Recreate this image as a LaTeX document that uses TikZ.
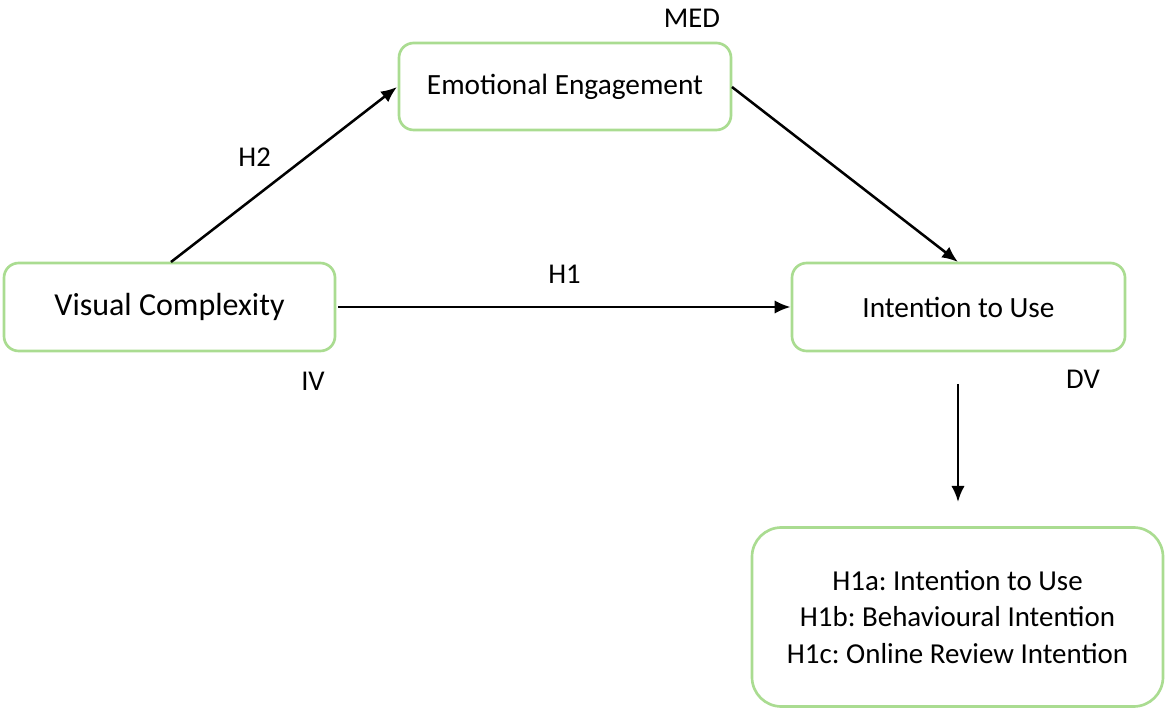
\documentclass[tikz,border=0pt]{standalone}
\usepackage{fontspec}
\setmainfont{Carlito}
\usetikzlibrary{arrows.meta}
\definecolor{boxgreen}{RGB}{170,220,145}
\begin{document}
\frenchspacing
\begin{tikzpicture}[x=0.75pt,y=-0.75pt,
  varbox/.style={draw=boxgreen,line width=2pt,rounded corners=11pt,inner sep=0pt,font=\fontsize{22}{26}\selectfont},
  conn/.style={line width=1.9pt,-{Latex[length=12pt,width=10pt]}},
  lbl/.style={font=\fontsize{21.5}{24}\selectfont,inner sep=0pt}]
\useasboundingbox (0,0) rectangle (1165,709);
\node[varbox,minimum width=331*0.75pt,minimum height=88*0.75pt,font=\fontsize{24}{28}\selectfont] (vc) at (169.5,307) {Visual Complexity};
\node[varbox,minimum width=332*0.75pt,minimum height=87*0.75pt] (ee) at (565,86.5) {Emotional Engagement};
\node[varbox,minimum width=333*0.75pt,minimum height=88*0.75pt] (itu) at (958.5,307) {Intention to Use};
\node[varbox,rounded corners=22pt,minimum width=411*0.75pt,minimum height=179*0.75pt,align=center,font=\fontsize{21.7}{27.5}\selectfont] (h1box) at (957.5,617) {H1a: Intention to Use\\H1b: Behavioural Intention\\H1c: Online Review Intention};
\node[lbl] (med) at (692,18) {MED};
\node[lbl] (iv) at (313,381) {IV};
\node[lbl] (dv) at (1083,379) {DV};
\coordinate (s2) at (171,262);
\coordinate (e2) at (397,87);
\coordinate (s3) at (732,87);
\coordinate (e3) at (958,262);
\coordinate (s4) at (958,384);
\coordinate (e4) at (958,502);
\draw[conn] (s2) -- node[lbl,pos=0.37,above=22pt] (h2lab) {H2} (e2);
\draw[conn] (s3) -- (e3);
\draw[conn] (vc.east) ++(2,0) coordinate (s1) (s1) -- node[lbl,above=17pt] (h1lab) {H1} (itu.west);
\draw[conn] (s4) -- (e4);
\end{tikzpicture}
\end{document}
